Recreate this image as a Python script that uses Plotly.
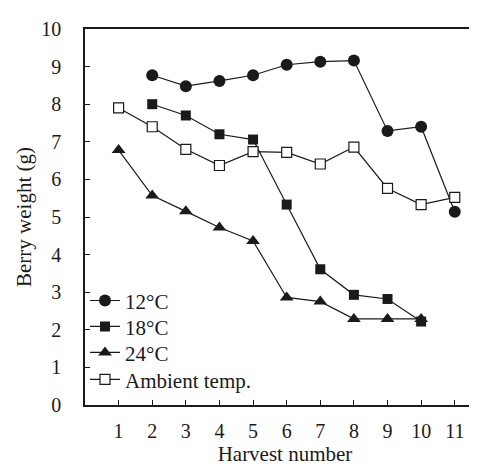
import plotly.graph_objects as go

harvest = [1, 2, 3, 4, 5, 6, 7, 8, 9, 10, 11]

x_12 = [2, 3, 4, 5, 6, 7, 8, 9, 10, 11]
w_12 = [8.77, 8.48, 8.62, 8.77, 9.05, 9.13, 9.16, 7.29, 7.40, 5.14]

x_18 = [2, 3, 4, 5, 6, 7, 8, 9, 10]
w_18 = [8.0, 7.70, 7.20, 7.06, 5.33, 3.61, 2.93, 2.82, 2.22]

x_24 = [1, 2, 3, 4, 5, 6, 7, 8, 9, 10]
w_24 = [6.78, 5.57, 5.15, 4.72, 4.36, 2.86, 2.75, 2.29, 2.29, 2.29]

x_amb = [1, 2, 3, 4, 5, 6, 7, 8, 9, 10, 11]
w_amb = [7.90, 7.40, 6.80, 6.37, 6.74, 6.72, 6.41, 6.86, 5.76, 5.33, 5.52]

font = "Liberation Serif, Times New Roman, serif"
ink = "#1a1a1a"

fig = go.Figure()

series = [
    ("12°C", x_12, w_12, dict(symbol="circle", size=12, color=ink)),
    ("18°C", x_18, w_18, dict(symbol="square", size=10, color=ink)),
    ("24°C", x_24, w_24, dict(symbol="triangle-up", size=12, color=ink)),
    ("Ambient temp.", x_amb, w_amb,
     dict(symbol="square", size=10, color="white", line=dict(color=ink, width=1.2))),
]

# one legend per series so the row spacing can be set like the original
legend_ids = ["legend", "legend2", "legend3", "legend4"]
legend_y = [0.277, 0.208, 0.139, 0.067]

for (name, xs, ys, mk), lg in zip(series, legend_ids):
    fig.add_trace(go.Scatter(
        x=xs, y=ys, name=name, mode="lines+markers",
        line=dict(color=ink, width=1.2),
        marker=mk, legend=lg,
    ))

fig.update_layout(
    width=477, height=467,
    margin=dict(l=77, r=0, t=21, b=70),
    paper_bgcolor="white", plot_bgcolor="white",
    font=dict(family=font, size=20, color=ink),
    showlegend=True,
)
for lg, ly in zip(legend_ids, legend_y):
    fig.update_layout({lg: dict(
        x=0.0, y=ly, xanchor="left", yanchor="middle",
        bgcolor="rgba(0,0,0,0)", font=dict(size=21),
        itemwidth=30,
    )})

fig.update_xaxes(
    range=[0, 11.9], tickvals=harvest,
    ticks="inside", ticklen=5, tickcolor=ink,
    showline=True, linecolor=ink, linewidth=1.5, mirror=True,
    showgrid=False, zeroline=False,
    ticklabelstandoff=7,
    title=dict(text="Harvest number", standoff=3, font=dict(size=21)),
)
fig.update_yaxes(
    range=[0, 10], tickvals=list(range(11)),
    ticks="inside", ticklen=5, tickcolor=ink,
    showline=True, linecolor=ink, linewidth=1.5, mirror=False,
    showgrid=False, zeroline=False,
    ticklabelstandoff=18,
    title=dict(text="Berry weight (g)", standoff=4, font=dict(size=21)),
)

fig.write_html("out.html")
